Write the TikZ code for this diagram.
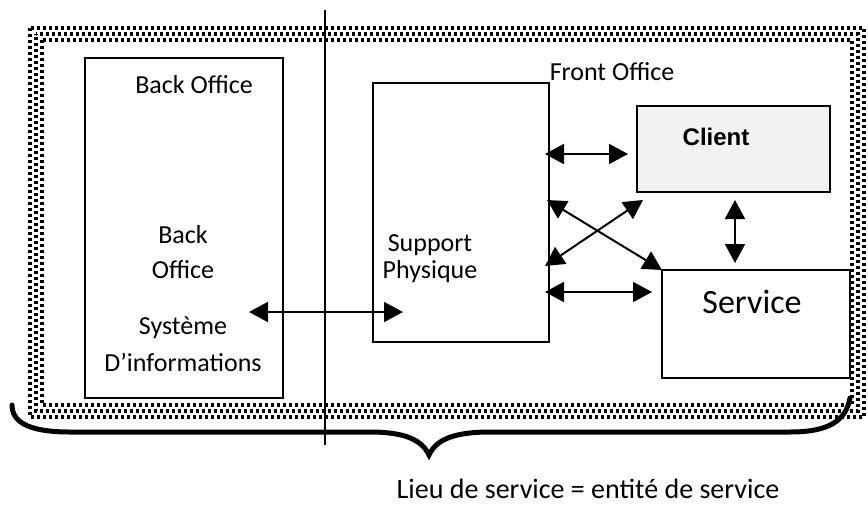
\documentclass[tikz,border=0pt]{standalone}
\usepackage{fontspec}
\setmainfont{Carlito}
\newfontfamily\clientfont{Liberation Sans}
\usetikzlibrary{arrows.meta}
\begin{document}
\begin{tikzpicture}[x=1pt,y=-1pt,
  box/.style={draw,line width=1.6pt,inner sep=0pt},
  lbl/.style={font=\fontsize{26}{28}\selectfont,inner sep=0pt},
  dbl/.style={line width=2pt,{Triangle[length=19pt,width=20pt]}-{Triangle[length=19pt,width=20pt]}},
  band/.style={line width=3.6pt,dash pattern=on 3.4pt off 2.6pt}]
\useasboundingbox (0,0) rectangle (868,520);
% dotted band
\draw[band] (30,28) rectangle (864,417);
\draw[band,dash phase=3pt] (36,34) rectangle (858,411);
\draw[band] (42,40) rectangle (852,405);
% separator
\coordinate (septop) at (325,10);
\coordinate (sepbot) at (325,445);
\draw[line width=1.4pt] (septop) -- (sepbot);
% boxes
\node[box,fill=white,minimum width=198pt,minimum height=340pt] (back) at (184,228) {};
\node[box,fill=white,minimum width=176pt,minimum height=259pt] (sup) at (461,212.5) {};
\node[box,fill=black!5,minimum width=193pt,minimum height=86pt] (client) at (733.5,149) {};
\node[box,minimum width=188pt,minimum height=108pt] (service) at (756,324) {};
\draw[line width=1.4pt] (septop) -- (sepbot);
% texts
\node[lbl] (tback) at (194,85) {Back Office};
\node[lbl] (tfront) at (612,72) {Front Office};
\node[lbl] (tb1) at (183,235) {Back};
\node[lbl] (tb2) at (183,270) {Office};
\node[lbl] (tb3) at (183,328) {Système};
\node[lbl] (tb4) at (183,362) {D’informations};
\node[lbl] (ts1) at (430,245) {Support};
\node[lbl] (ts2) at (430,272) {Physique};
\node[font=\clientfont\bfseries\fontsize{24}{26}\selectfont,inner sep=0pt] (tc) at (716,137) {Client};
\node[font=\fontsize{34}{36}\selectfont,inner sep=0pt] (tsv) at (752,302) {Service};
\node[font=\fontsize{28}{30}\selectfont,inner sep=0pt] (tlieu) at (588,489) {Lieu de service = entité de service};
% arrow endpoints
\coordinate (a1) at (249,312); \coordinate (a2) at (403,312);
\coordinate (b1) at (545,154); \coordinate (b2) at (628,154);
\coordinate (c1) at (545,292); \coordinate (c2) at (652,292);
\coordinate (d1) at (547,200); \coordinate (d2) at (662,270);
\coordinate (e1) at (545,266); \coordinate (e2) at (643,200);
\coordinate (f1) at (735,200); \coordinate (f2) at (735,263);
\draw[dbl] (a1) -- (a2);
\draw[dbl] (b1) -- (b2);
\draw[dbl] (c1) -- (c2);
\draw[dbl] (d1) -- (d2);
\draw[dbl] (e1) -- (e2);
\draw[dbl] (f1) -- (f2);
% brace
\coordinate (brl) at (12,405);
\coordinate (brt) at (429,455);
\coordinate (brr) at (850,398);
\draw[line width=5pt,line cap=round] (brl) .. controls (12,425) and (35,432) .. (70,432)
  -- (370,432) .. controls (405,432) and (422,440) .. (brt)
  .. controls (436,440) and (453,432) .. (490,432) -- (790,432)
  .. controls (830,432) and (846,420) .. (brr);
\end{tikzpicture}
\end{document}
